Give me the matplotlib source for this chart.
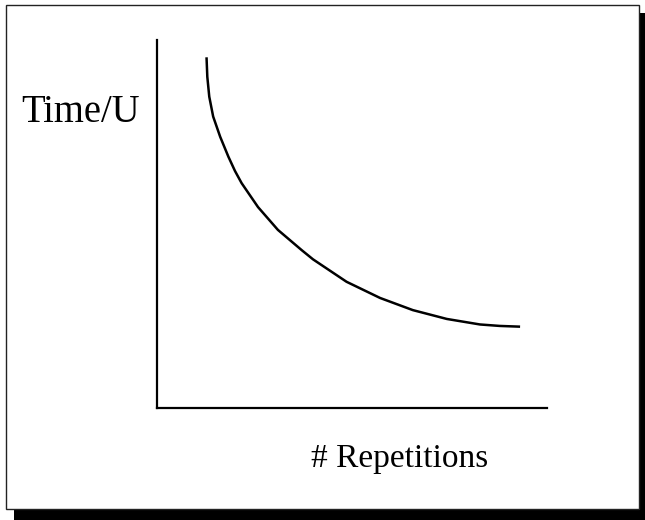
import matplotlib
matplotlib.use("Agg")
import matplotlib.pyplot as plt
from matplotlib.patches import Rectangle

# Data (arbitrary units)
repetitions = [1.27, 1.29, 1.34, 1.44, 1.62, 1.83, 2.00, 2.17, 2.59, 3.10,
               3.71, 4.00, 4.86, 5.72, 6.56, 7.43, 8.28, 8.79, 9.31]
time_per_unit = [9.53, 9.00, 8.46, 7.92, 7.37, 6.83, 6.44, 6.11, 5.46, 4.84,
                 4.29, 4.04, 3.43, 2.99, 2.66, 2.42, 2.27, 2.23, 2.21]
y_label = "Time/U"
x_label = "# Repetitions"

W, H = 645, 520
fig = plt.figure(figsize=(W / 100, H / 100), dpi=100)
fig.patch.set_facecolor("white")

# Background overlay for frame + shadow (pixel coordinates)
bg = fig.add_axes([0, 0, 1, 1])
bg.set_xlim(0, W)
bg.set_ylim(H, 0)
bg.axis("off")
bg.add_patch(Rectangle((14, 13), W - 14 + 5, H - 13 + 5, facecolor="black", edgecolor="none"))
bg.add_patch(Rectangle((6, 5), 633, 504, facecolor="white", edgecolor="#222222", linewidth=1.0))

ax = fig.add_axes([157 / W, (H - 408) / H, 390 / W, 368 / H])
ax.patch.set_alpha(0)
ax.set_xlim(0, 10)
ax.set_ylim(0, 10)
ax.plot(repetitions, time_per_unit, color="black", linewidth=1.8,
        solid_capstyle="butt", solid_joinstyle="round")
for s in ["top", "right"]:
    ax.spines[s].set_visible(False)
for s in ["left", "bottom"]:
    ax.spines[s].set_linewidth(1.6)
    ax.spines[s].set_color("black")
ax.set_xticks([])
ax.set_yticks([])

fam = ["Liberation Serif", "DejaVu Serif"]
fig.text(21.5 / W, 1 - 122.5 / H, y_label, ha="left", va="baseline",
         family=fam, size=27.8, color="black")
fig.text(400 / W, 1 - 467 / H, x_label, ha="center", va="baseline",
         family=fam, size=24, color="black")

fig.savefig("out.png", dpi=100)
